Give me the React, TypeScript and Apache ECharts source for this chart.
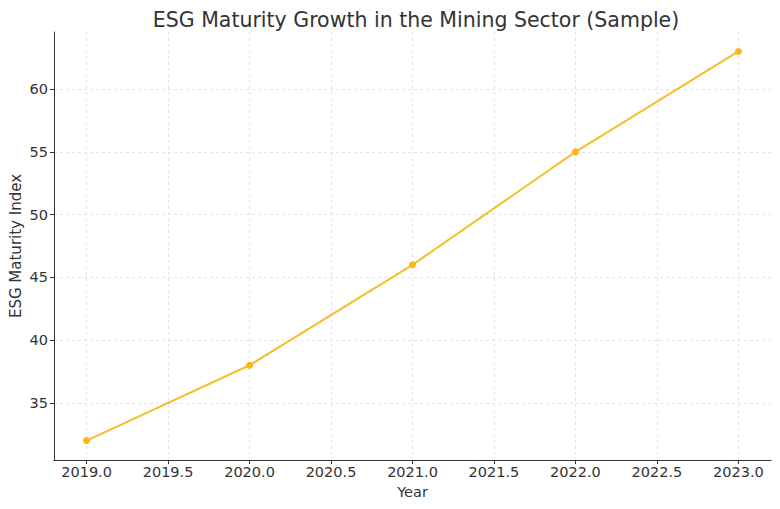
import React, { useEffect, useRef } from "react";
import * as echarts from "echarts";

const years = [2019, 2020, 2021, 2022, 2023];
const maturity = [32, 38, 46, 55, 63];
const xTicks = [2019, 2019.5, 2020, 2020.5, 2021, 2021.5, 2022, 2022.5, 2023];
const yTicks = [35, 40, 45, 50, 55, 60];

export default function App() {
  const ref = useRef<HTMLDivElement>(null);
  useEffect(() => {
    if (!ref.current) return;
    const chart = echarts.init(ref.current, null, { renderer: "svg" });
    const font = "DejaVu Sans";
    chart.setOption({
      animation: false,
      backgroundColor: "#ffffff",
      title: {
        text: "ESG Maturity Growth in the Mining Sector (Sample)",
        left: 411,
        textAlign: "center",
        top: 4,
        textStyle: { fontFamily: font, fontSize: 20.5, fontWeight: "normal", color: "#333333" },
      },
      grid: { left: 54, right: 9, top: 32, bottom: 49, containLabel: false, outerBoundsMode: "none" },
      xAxis: {
        type: "value",
        min: 2018.8,
        max: 2023.2,
        name: "Year",
        nameLocation: "middle",
        nameGap: 24,
        nameMoveOverlap: false,
        nameTextStyle: { fontFamily: font, fontSize: 14.5, color: "#333333" },
        axisLine: { show: true, lineStyle: { color: "#333333", width: 1 } },
        axisTick: { show: true, length: 4, customValues: xTicks, lineStyle: { color: "#333333" } },
        axisLabel: {
          customValues: xTicks,
          fontFamily: font,
          fontSize: 14.5,
          color: "#333333",
          margin: 4,
          formatter: (v: number) => v.toFixed(1),
        },
        splitLine: { show: true, lineStyle: { color: "#dddddd", type: [3, 3], width: 0.8 } },
      },
      yAxis: {
        type: "value",
        min: 30.45,
        max: 64.55,
        name: "ESG Maturity Index",
        nameLocation: "middle",
        nameGap: 31,
        nameMoveOverlap: false,
        nameTextStyle: { fontFamily: font, fontSize: 15, color: "#333333" },
        axisLine: { show: true, lineStyle: { color: "#333333", width: 1 } },
        axisTick: { show: true, length: 4, customValues: yTicks, lineStyle: { color: "#333333" } },
        axisLabel: {
          customValues: yTicks,
          fontFamily: font,
          fontSize: 14.5,
          color: "#333333",
          margin: 6,
        },
        splitLine: { show: true, lineStyle: { color: "#dddddd", type: [3, 3], width: 0.8 } },
      },
      series: [
        {
          type: "line",
          data: years.map((y, i) => [y, maturity[i]]),
          symbol: "circle",
          symbolSize: 7,
          itemStyle: { color: "#FDB515" },
          lineStyle: { color: "#F6BE2C", width: 2 },
        },
      ],
    });
    return () => chart.dispose();
  }, []);
  return <div ref={ref} style={{ width: 780, height: 509, position: "absolute", left: 0, top: 0 }} />;
}
